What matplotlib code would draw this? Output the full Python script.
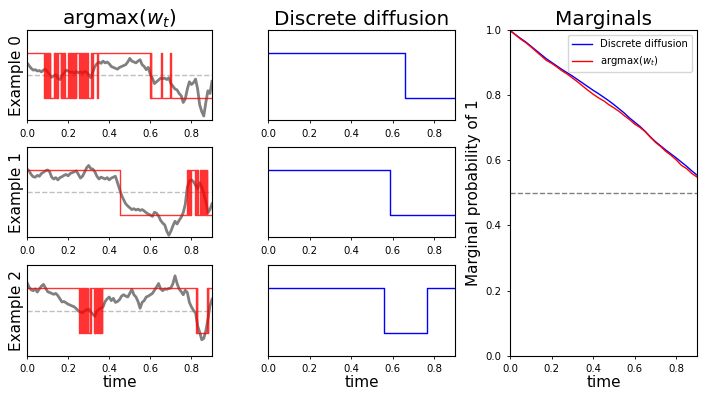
import numpy as np
import matplotlib
matplotlib.use("Agg")
import matplotlib.pyplot as plt

t_walk = np.round(np.arange(0, 0.901, 0.01), 2)

walk0 = [0.78, 0.72, 0.66, 0.62, 0.63, 0.60, 0.61, 0.58, 0.62, 0.64,
         0.58, 0.52, 0.46, 0.49, 0.52, 0.44, 0.41, 0.50, 0.55, 0.62,
         0.60, 0.57, 0.58, 0.55, 0.59, 0.56, 0.58, 0.55, 0.59, 0.57,
         0.52, 0.45, 0.58, 0.70, 0.76, 0.80, 0.77, 0.82, 0.78, 0.80,
         0.76, 0.70, 0.68, 0.66, 0.64, 0.68, 0.70, 0.72, 0.74, 0.80,
         0.88, 0.82, 0.80, 0.78, 0.82, 0.85, 0.74, 0.70, 0.63, 0.68,
         0.52, 0.44, 0.32, 0.36, 0.40, 0.44, 0.43, 0.44, 0.41, 0.45,
         0.32, 0.26, 0.20, 0.18, 0.10, 0.05, -0.10, -0.02, 0.20, 0.36,
         0.30, 0.34, 0.42, 0.20, -0.15, -0.30, -0.40, -0.10, 0.16, 0.10,
         0.37]
walk1 = [1.02, 0.98, 0.90, 0.85, 0.84, 0.88, 0.86, 0.92, 0.95, 0.98,
         1.00, 0.96, 0.84, 0.80, 0.83, 0.78, 0.83, 0.85, 0.88, 0.90,
         0.87, 0.92, 0.94, 0.96, 0.98, 0.90, 0.82, 0.86, 0.95, 1.05,
         1.10, 1.03, 1.02, 0.96, 0.86, 0.80, 0.84, 0.82, 0.80, 0.83,
         0.78, 0.82, 0.84, 0.86, 0.72, 0.58, 0.44, 0.34, 0.25, 0.20,
         0.16, 0.12, 0.14, 0.11, 0.13, 0.10, 0.12, 0.09, 0.05, 0.02,
         0.00, -0.03, 0.06, 0.04, -0.02, -0.12, -0.18, -0.22, -0.36, -0.45,
         -0.36, -0.24, -0.14, -0.20, -0.12, -0.05, 0.05, 0.24, 0.62, 0.75,
         0.78, 0.74, 0.66, 0.58, 0.72, 0.62, 0.48, 0.30, 0.05, 0.12,
         0.25]
walk2 = [1.12, 1.02, 0.96, 0.94, 0.98, 0.91, 0.98, 1.04, 1.08, 1.00,
         0.92, 0.90, 0.88, 0.86, 0.88, 0.83, 0.76, 0.69, 0.70, 0.67,
         0.64, 0.62, 0.60, 0.58, 0.54, 0.49, 0.46, 0.45, 0.49, 0.52,
         0.53, 0.47, 0.42, 0.37, 0.48, 0.53, 0.55, 0.58, 0.70, 0.76,
         0.80, 0.72, 0.77, 0.68, 0.70, 0.74, 0.82, 0.85, 0.82, 0.80,
         0.88, 0.97, 0.85, 0.80, 0.70, 0.55, 0.68, 0.72, 0.80, 0.82,
         0.85, 0.88, 0.95, 1.02, 1.10, 0.98, 0.94, 0.98, 0.97, 0.99,
         1.00, 1.10, 1.27, 1.10, 0.98, 0.92, 0.85, 0.95, 0.90, 0.68,
         0.58, 0.50, 0.45, 0.16, 0.02, -0.15, -0.12, 0.05, 0.30, 0.60,
         0.75]

# switch times of argmax(w_t), starts at 1
red0 = [0.084, 0.088, 0.092, 0.096, 0.100, 0.104, 0.108, 0.110, 0.113,
        0.130, 0.134, 0.138, 0.142, 0.145, 0.147, 0.149,
        0.163, 0.167, 0.171, 0.175, 0.179, 0.182, 0.186,
        0.200, 0.204, 0.208, 0.212, 0.216, 0.220, 0.224, 0.228, 0.232, 0.236, 0.240,
        0.255, 0.259, 0.263, 0.267, 0.271, 0.275, 0.279, 0.283, 0.287, 0.291, 0.297,
        0.311, 0.316, 0.322, 0.339, 0.347,
        0.598, 0.601, 0.604, 0.654, 0.657, 0.697, 0.700]
red1 = [0.453,
        0.779, 0.782, 0.785, 0.788, 0.791, 0.795, 0.798,
        0.817, 0.821, 0.825, 0.829, 0.832,
        0.842, 0.846, 0.850, 0.854, 0.858, 0.862, 0.866, 0.870, 0.874,
        0.878]
red2 = [0.254, 0.258, 0.262, 0.266, 0.270, 0.274, 0.278, 0.282, 0.286, 0.290, 0.295,
        0.304, 0.308, 0.313,
        0.325, 0.329, 0.333, 0.337, 0.341, 0.345, 0.349, 0.353, 0.357, 0.361, 0.364, 0.367,
        0.823, 0.826, 0.829, 0.876, 0.879, 0.882]

# switch times of the discrete diffusion samples, starts at 1
blue0 = [0.66]
blue1 = [0.585]
blue2 = [0.56, 0.765]

# marginals
t_marg = np.round(np.arange(0, 0.901, 0.025), 3)
marg_disc = [1.000, 0.988, 0.976, 0.965, 0.952, 0.939, 0.926, 0.913, 0.902, 0.891,
             0.880, 0.870, 0.860, 0.849, 0.838, 0.827, 0.816, 0.806, 0.795, 0.784,
             0.772, 0.759, 0.746, 0.731, 0.718, 0.705, 0.690, 0.673, 0.658, 0.645,
             0.632, 0.620, 0.608, 0.595, 0.582, 0.568, 0.555]
marg_argmax = [1.000, 0.987, 0.974, 0.963, 0.950, 0.936, 0.922, 0.908, 0.899, 0.888,
               0.876, 0.866, 0.854, 0.842, 0.829, 0.816, 0.804, 0.793, 0.784, 0.772,
               0.762, 0.751, 0.738, 0.726, 0.712, 0.702, 0.689, 0.672, 0.656, 0.643,
               0.628, 0.616, 0.602, 0.585, 0.575, 0.560, 0.549]

T_END = 0.9


def steps(switches):
    t = [0.0] + list(switches) + [T_END]
    v = [(1 - i % 2) for i in range(len(switches) + 1)]
    v = v + [v[-1]]
    return t, v


plt.rcParams['font.family'] = 'DejaVu Sans'
plt.rcParams['axes.linewidth'] = 0.8
plt.rcParams['xtick.major.size'] = 2.5
plt.rcParams['ytick.major.size'] = 2.5
plt.rcParams['xtick.major.width'] = 0.6
plt.rcParams['ytick.major.width'] = 0.6
plt.rcParams['xtick.labelsize'] = 7.3
plt.rcParams['ytick.labelsize'] = 7.3

fig = plt.figure(figsize=(7.02, 3.99), dpi=100)

lefts = [0.0385, 0.3818]
widths = [0.2635, 0.2664]
bottoms = [0.698, 0.4048, 0.109]
h = 0.2256

walks = [walk0, walk1, walk2]
reds = [red0, red1, red2]
blues = [blue0, blue1, blue2]

for i in range(3):
    #пути w_t и argmax
    ax = fig.add_axes([lefts[0], bottoms[i], widths[0], h])
    ax.plot(t_walk, walks[i], color='gray', lw=2.0)
    ax.axhline(0.5, color='gray', alpha=0.5, ls='--', lw=1.0)
    t, v = steps(reds[i])
    ax.step(t, v, where='post', color='r', alpha=0.8, lw=1.0)
    ax.set_xlim(0, T_END)
    ax.set_ylim(-0.5, 1.5)
    ax.set_yticks([])
    ax.set_xticks([0, 0.2, 0.4, 0.6, 0.8])
    ax.set_ylabel(f"Example {i}", fontsize=11, labelpad=2)
    if i == 0:
        ax.set_title("argmax($w_t$)", fontsize=14.4, pad=4)
    if i == 2:
        ax.set_xlabel("time", fontsize=11, labelpad=1)

    #дискретная диффузия
    ax = fig.add_axes([lefts[1], bottoms[i], widths[1], h])
    t, v = steps(blues[i])
    ax.step(t, v, where='post', color='b', lw=1.0)
    ax.set_xlim(0, T_END)
    ax.set_ylim(-0.5, 1.5)
    ax.set_yticks([])
    ax.set_xticks([0, 0.2, 0.4, 0.6, 0.8])
    if i == 0:
        ax.set_title("Discrete diffusion", fontsize=14.4, pad=4)
    if i == 2:
        ax.set_xlabel("time", fontsize=11, labelpad=1)

#маргинальные вероятности
ax = fig.add_axes([0.7265, 0.109, 0.2664, 0.8146])
ax.plot(t_marg, marg_disc, color='b', lw=1.0, label="Discrete diffusion")
ax.plot(t_marg, marg_argmax, color='r', lw=1.0, label="argmax($w_t$)")
ax.axhline(0.5, color='gray', ls='--', lw=1.0)
ax.set_xlim(0, T_END)
ax.set_ylim(0, 1)
ax.set_xticks([0, 0.2, 0.4, 0.6, 0.8])
ax.set_yticks([0, 0.2, 0.4, 0.6, 0.8, 1.0])
ax.set_title("Marginals", fontsize=14.4, pad=4)
ax.set_xlabel("time", fontsize=11, labelpad=1)
ax.set_ylabel("Marginal probability of 1", fontsize=11, labelpad=3)
ax.legend(fontsize=7.2, loc='upper right')

fig.savefig("out.png", dpi=100)
